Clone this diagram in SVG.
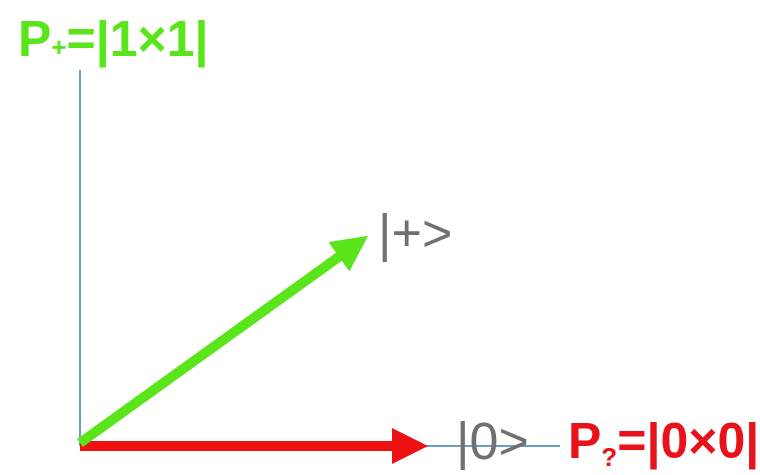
<svg xmlns="http://www.w3.org/2000/svg" width="760" height="475" viewBox="0 0 760 475">
<style>
.axis{stroke:#6a9ec0;stroke-width:2;fill:none}
.ket{font-family:"Liberation Sans",Arial,sans-serif;font-size:52px;fill:#707070;font-weight:300}
.proj{font-family:"Liberation Sans",Arial,sans-serif;font-weight:bold;font-size:50px}
</style>
<defs>
<marker id="hg" markerWidth="4" markerHeight="4" refX="1" refY="1.8" orient="auto" markerUnits="strokeWidth"><path d="M0,0 L3.6,1.8 L0,3.6 z" fill="#5ae51a"/></marker>
<marker id="hr" markerWidth="4" markerHeight="4" refX="1" refY="1.8" orient="auto" markerUnits="strokeWidth"><path d="M0,0 L3.6,1.8 L0,3.6 z" fill="#ee1111"/></marker>
</defs>
<rect width="760" height="475" fill="#ffffff"/>
<g id="connectors">
<line class="axis" x1="80" y1="70" x2="80" y2="446"/>
<line class="axis" x1="80" y1="446" x2="560" y2="446"/>
<line x1="80" y1="446" x2="402" y2="446" stroke="#ee1111" stroke-width="10" marker-end="url(#hr)"/>
<line x1="80" y1="443" x2="347" y2="251" stroke="#5ae51a" stroke-width="10" marker-end="url(#hg)"/>
</g>
<g id="label-plus-proj">
<text class="proj" x="18" y="56" fill="#5ae51a">P<tspan font-size="26" dy="0">+</tspan><tspan dy="0">=|1×1|</tspan></text>
</g>
<g id="ket-plus">
<text class="ket" x="378" y="251">|+&gt;</text>
</g>
<g id="ket-zero">
<text class="ket" x="456" y="459">|0&gt;</text>
</g>
<g id="label-zero-proj">
<text class="proj" x="568" y="458" fill="#e8121a">P<tspan font-size="26" dy="8">?</tspan><tspan dy="-8">=|0×0|</tspan></text>
</g>
</svg>
